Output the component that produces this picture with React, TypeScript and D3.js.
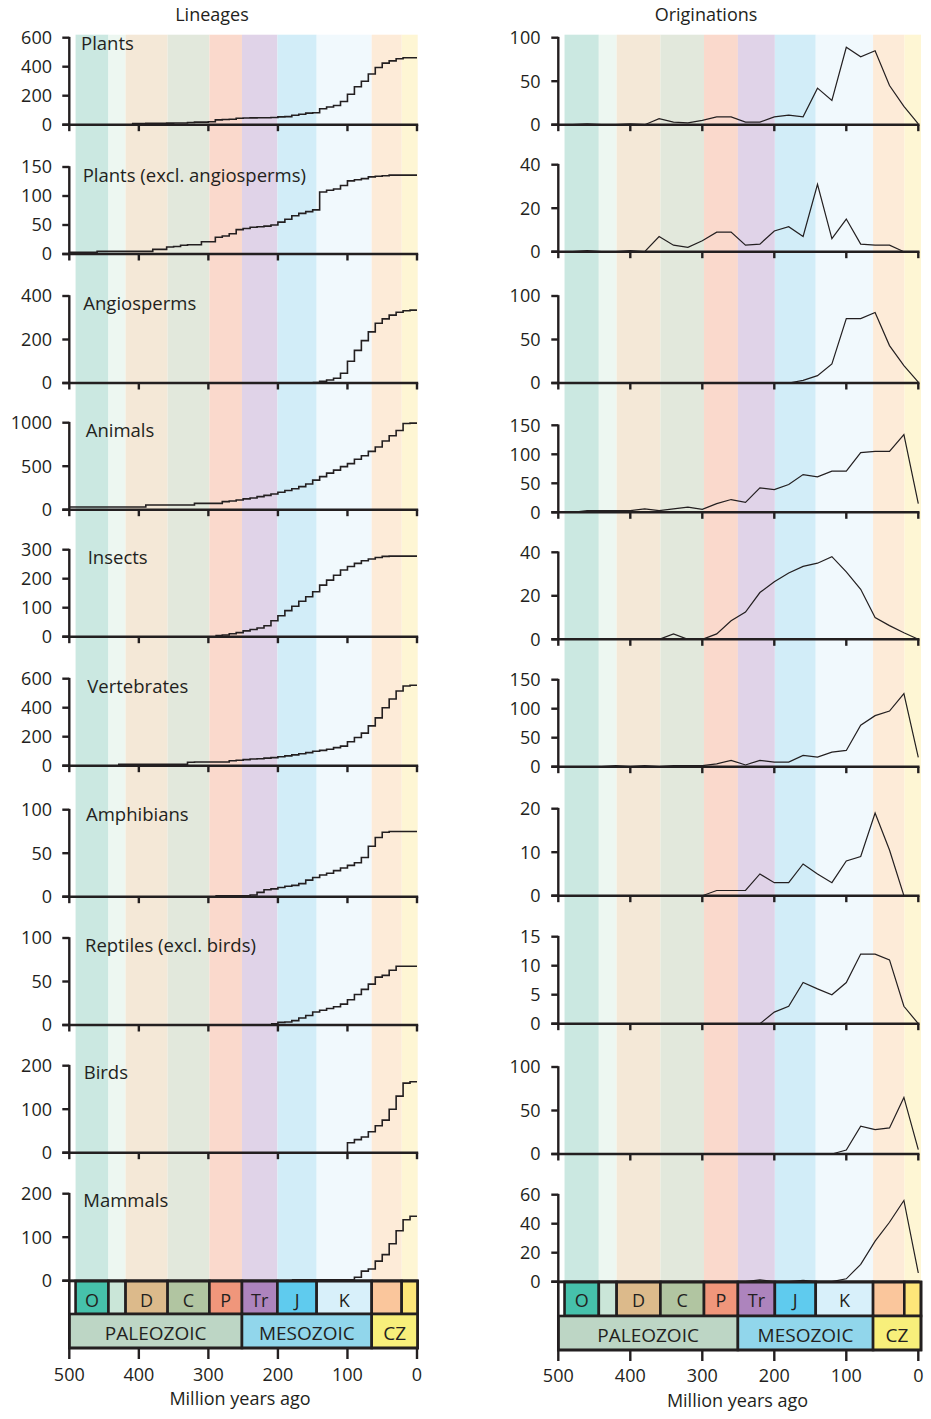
import React from 'react';
import * as d3 from 'd3';

// ---------------- Data ----------------
const lineageAges = [500, 490, 480, 470, 460, 450, 440, 430, 420, 410, 400, 390, 380, 370, 360, 350, 340, 330, 320, 310, 300, 290, 280, 270, 260, 250, 240, 230, 220, 210, 200, 190, 180, 170, 160, 150, 140, 130, 120, 110, 100, 90, 80, 70, 60, 50, 40, 30, 20, 10, 0];
const originationAges = [480, 460, 440, 420, 400, 380, 360, 340, 320, 300, 280, 260, 240, 220, 200, 180, 160, 140, 120, 100, 80, 60, 40, 20, 0];

const groupNames = ['Plants', 'Plants (excl. angiosperms)', 'Angiosperms', 'Animals', 'Insects', 'Vertebrates', 'Amphibians', 'Reptiles (excl. birds)', 'Birds', 'Mammals'];

const lineageTicks = [[0, 200, 400, 600], [0, 50, 100, 150], [0, 200, 400], [0, 500, 1000], [0, 100, 200, 300], [0, 200, 400, 600], [0, 50, 100], [0, 50, 100], [0, 100, 200], [0, 100, 200]];
const originationTicks = [[0, 50, 100], [0, 20, 40], [0, 50, 100], [0, 50, 100, 150], [0, 20, 40], [0, 50, 100, 150], [0, 10, 20], [0, 5, 10, 15], [0, 50, 100], [0, 20, 40, 60]];

const plantsLin = [null, null, null, null, null, null, null, null, null, 8, 8, 9, 10, 10, 11, 12, 12, 15, 18, 18, 20, 33, 36, 38, 44, 46, 47, 48, 48, 50, 54, 56, 65, 72, 80, 82, 110, 122, 132, 160, 210, 262, 300, 350, 395, 425, 440, 455, 462, 462, 462];
const plantsExclLin = [3, 3, 3, 3, 4.5, 4.5, 4.5, 4.5, 4.5, 4.5, 4.5, 4.5, 8, 8, 12, 13, 15, 16, 16, 21, 21, 29, 31, 35, 42, 44, 46, 47, 48, 50, 55, 60, 66, 70, 73, 76, 107, 110, 112, 118, 126, 128, 130, 133, 134, 135, 136, 136, 136, 136, 136];
const angioLin = [null, null, null, null, null, null, null, null, null, null, null, null, null, null, null, null, null, null, null, null, null, null, null, null, null, null, null, null, null, null, null, null, null, null, null, 2, 8, 14, 22, 45, 100, 150, 195, 235, 275, 295, 312, 325, 332, 335, 335];
const animalLin = [31, 31, 31, 31, 31, 31, 31, 31, 31, 31, 31, 54, 54, 54, 54, 54, 54, 54, 73, 73, 73, 73, 93, 100, 112, 125, 135, 150, 165, 180, 200, 220, 240, 265, 295, 340, 380, 420, 455, 495, 530, 580, 620, 670, 720, 790, 850, 910, 990, 995, 995];
const insectLin = [null, null, null, null, null, null, null, null, null, null, null, null, null, null, null, null, null, null, null, null, null, 4, 6, 10, 14, 20, 25, 30, 38, 55, 72, 90, 105, 122, 138, 155, 178, 195, 212, 230, 242, 253, 262, 268, 273, 277, 278, 278, 278, 278, 278];
const vertebrateLin = [null, null, null, null, null, null, null, 9, 9, 9, 9, 9, 9, 9, 9, 9, 9, 24, 26, 26, 26, 26, 26, 34, 38, 42, 46, 48, 52, 56, 62, 68, 75, 82, 90, 100, 106, 113, 125, 135, 165, 195, 225, 275, 330, 400, 460, 515, 550, 555, 555];
const amphibianLin = [null, null, null, null, null, null, null, null, null, null, null, null, null, null, null, null, null, null, null, null, null, 1, 1, 1, 1, 1, 2, 5, 8, 9, 10.5, 12, 13, 15, 19, 22, 25, 27, 30, 33, 36, 39, 45, 58, 68, 74, 75, 75, 75, 75, 75];
const reptileLin = [null, null, null, null, null, null, null, null, null, null, null, null, null, null, null, null, null, null, null, null, null, null, null, null, null, null, null, null, null, 1.5, 3, 3.5, 5, 8, 11, 15, 17, 19, 21, 24, 29, 35, 41, 47, 55, 57, 63, 67.5, 67.5, 67.5, 67.5];
const birdLin = [null, null, null, null, null, null, null, null, null, null, null, null, null, null, null, null, null, null, null, null, null, null, null, null, null, null, null, null, null, null, null, null, null, null, null, null, null, null, null, 0, 23, 30, 36, 48, 62, 75, 100, 130, 160, 163, 163];
const mammalLin = [null, null, null, null, null, null, null, null, null, null, null, null, null, null, null, null, null, null, null, null, null, null, null, null, null, null, null, null, null, null, null, null, 2, 2, 2, 2, 2, 2, 2, 2, 2, 8, 22, 27, 45, 60, 85, 115, 140, 148, 148];

const plantsOrig = [0, 1, 0, 0, 1, 0, 7, 3, 2, 5, 9, 9, 3, 3, 9, 11, 9, 42, 28, 89, 78, 85, 45, 21, 1];
const plantsExclOrig = [0, 0.5, 0, 0, 0.5, 0, 7, 3, 2, 5, 9, 9, 3, 3.5, 9.5, 11.5, 7, 31, 6, 15, 3.5, 3, 3, 0, 0];
const angioOrig = [0, 0, 0, 0, 0, 0, 0, 0, 0, 0, 0, 0, 0, 0, 0, 0, 3, 8.5, 22, 74, 74, 81, 43, 20, 1];
const animalOrig = [0, 3, 3, 3, 3, 6, 3, 6, 9, 5, 15, 22, 17, 42, 39, 48, 65, 61, 71, 71, 103, 105, 105, 134, 15];
const insectOrig = [0, 0, 0, 0, 0, 0, 0, 2.5, 0, 0, 2.5, 8.5, 12.5, 21.5, 26.5, 30.5, 33.5, 35, 38, 31, 23, 10, 6.3, 3, 0];
const vertebrateOrig = [0, 0, 0, 2, 0, 2, 0, 2, 2, 2, 5, 11, 3, 11, 8, 8, 19.5, 16.5, 25, 28, 71.5, 88, 96, 126, 16];
const amphibianOrig = [0, 0, 0, 0, 0, 0, 0, 0, 0, 0, 1.2, 1.2, 1.2, 5, 3, 3, 7.3, 5, 3, 8, 9, 19, 10.5, 0, 0];
const reptileOrig = [0, 0, 0, 0, 0, 0, 0, 0, 0, 0, 0, 0, 0, 0, 2, 3, 7.1, 6, 5, 7.1, 12, 12, 11, 3, 0];
const birdOrig = [0, 0, 0, 0, 0, 0, 0, 0, 0, 0, 0, 0, 0, 0, 0, 0, 0, 0, 0, 4.5, 32, 28, 30, 65, 5];
const mammalOrig = [0, 0, 0, 0, 0, 0, 0, 0, 0, 0, 0, 0, 0, 1.2, 0, 0, 1, 0, 0, 2, 12, 28, 41, 56, 6];

const lineageSeries = [plantsLin, plantsExclLin, angioLin, animalLin, insectLin, vertebrateLin, amphibianLin, reptileLin, birdLin, mammalLin];
const originationSeries = [plantsOrig, plantsExclOrig, angioOrig, animalOrig, insectOrig, vertebrateOrig, amphibianOrig, reptileOrig, birdOrig, mammalOrig];

const periodLabels = ['O', '', 'D', 'C', 'P', 'Tr', 'J', 'K', '', ''];
const periodStarts = [491, 443.8, 419.2, 358.9, 298.9, 252.2, 201.3, 145, 66, 23];
const periodEnds = [443.8, 419.2, 358.9, 298.9, 252.2, 201.3, 145, 66, 23, 0];
const bandColors = ['#cbe8e1', '#edf7f1', '#f4e8d7', '#e2e8dc', '#fad9cc', '#e0d3e8', '#d2edf8', '#f1f9fd', '#fdebd8', '#fef6d4'];
const boxColors = ['#46c1ab', '#cae6d8', '#dcba8b', '#b1c5a1', '#f0967b', '#ad84bd', '#5fcbee', '#d8f0fa', '#fac69c', '#fee679'];
const eraLabels = ['PALEOZOIC', 'MESOZOIC', 'CZ'];
const eraStarts = [500, 252.2, 66];
const eraEnds = [252.2, 66, 0];
const eraColors = ['#bdd6c5', '#91d6eb', '#f8ef7b'];
const xTicks = [500, 400, 300, 200, 100, 0];

// ---------------- Layout ----------------
const INK = '#231f20';
const FONT = '"Open Sans", "Noto Sans", sans-serif';
const PANEL_H = 87;
const leftZeros = [124.7, 254, 383, 509.7, 636.7, 765.7, 896.7, 1025, 1152.7, 1280.7];
const rightZeros = [124.7, 251.7, 383, 512.3, 639.3, 766.7, 895.7, 1023.7, 1154, 1281.7];
const labelX = [81, 82.7, 83.3, 85.7, 87.7, 87.3, 86, 85, 83.7, 83.3];
const labelY = [50, 181.7, 310, 436.7, 564, 692.7, 820.7, 951.7, 1079.3, 1207.3];

const xL = d3.scaleLinear().domain([500, 0]).range([69.3, 417]);
const xR = d3.scaleLinear().domain([500, 0]).range([558.3, 918.3]);
const bandL = d3.scaleLinear().domain([500, 0]).range([69.3, 417.7]);
const bandR = d3.scaleLinear().domain([500, 0]).range([558, 921]);

type Side = {
  x: d3.ScaleLinear<number, number>;
  band: d3.ScaleLinear<number, number>;
  zeros: number[];
  ticks: number[][];
  series: (number | null)[][];
  ages: number[];
  step: boolean;
  lineW: number;
  labX: number;
  title: string;
  titleX: number;
  rows: number[];
  bottomLabelY: number;
  axisTitleX: number;
  axisTitleY: number;
  periodTextY: number;
  eraTextY: number;
};

function SidePlot({ s }: { s: Side }) {
  const x0 = s.x(500);
  const xEnd = s.x(0);
  const bandTop = 34.7;
  return (
    <g>
      {periodStarts.map((st, i) => (
        <rect key={'b' + i} x={s.band(st)} y={bandTop} width={s.band(periodEnds[i]) - s.band(st)} height={s.rows[0] - bandTop} fill={bandColors[i]} />
      ))}
      <text x={s.titleX} y={21} textAnchor="middle" fontSize={18} fill={INK}>{s.title}</text>
      {s.series.map((vals, i) => {
        const y0 = s.zeros[i];
        const ticks = s.ticks[i];
        const yMax = ticks[ticks.length - 1];
        const y = d3.scaleLinear().domain([0, yMax]).range([y0, y0 - PANEL_H]);
        const pts: [number, number | null][] = s.ages.map((a, j) => [a, vals[j]]);
        const line = d3.line<[number, number | null]>()
          .defined(d => d[1] !== null)
          .x(d => s.x(d[0]))
          .y(d => y(d[1] as number))
          .curve(s.step ? d3.curveStepAfter : d3.curveLinear);
        return (
          <g key={'p' + i}>
            <path d={line(pts) || ''} fill="none" stroke={INK} strokeWidth={s.lineW} strokeLinejoin="miter" />
            <line x1={x0} x2={x0} y1={y(yMax) - 0.8} y2={y0} stroke={INK} strokeWidth={2.4} />
            {ticks.map(t => (
              <g key={'yt' + t}>
                <line x1={x0 - 7} x2={x0} y1={y(t)} y2={y(t)} stroke={INK} strokeWidth={2.4} />
                <text x={s.labX} y={y(t) + 6.3} textAnchor="end" fontSize={18} fill={INK}>{t}</text>
              </g>
            ))}
            <line x1={x0 - 7} x2={xEnd + 1.2} y1={y0} y2={y0} stroke={INK} strokeWidth={2.6} />
            {xTicks.map(t => (
              <line key={'xt' + t} x1={s.x(t)} x2={s.x(t)} y1={y0} y2={y0 + 6.5} stroke={INK} strokeWidth={2.4} />
            ))}
            {s.step && (
              <text x={labelX[i]} y={labelY[i]} fontSize={18.5} fill={INK}>{groupNames[i]}</text>
            )}
          </g>
        );
      })}
      <rect x={x0} y={s.rows[0]} width={s.band(0) - x0} height={s.rows[1] - s.rows[0]} fill="#ffffff" />
      {periodStarts.map((st, i) => (
        <g key={'pb' + i}>
          <rect x={s.band(st)} y={s.rows[0]} width={s.band(periodEnds[i]) - s.band(st)} height={s.rows[1] - s.rows[0]} fill={boxColors[i]} stroke={INK} strokeWidth={2.6} />
          {periodLabels[i] && (
            <text x={(s.band(st) + s.band(periodEnds[i])) / 2} y={s.periodTextY} textAnchor="middle" fontSize={18} fill={INK}>{periodLabels[i]}</text>
          )}
        </g>
      ))}
      {eraStarts.map((st, i) => {
        const a = i === 0 ? x0 : s.band(st);
        const b = s.band(eraEnds[i]);
        return (
          <g key={'e' + i}>
            <rect x={a} y={s.rows[1]} width={b - a} height={s.rows[2] - s.rows[1]} fill={eraColors[i]} stroke={INK} strokeWidth={2.6} />
            <text x={(a + b) / 2} y={s.eraTextY} textAnchor="middle" fontSize={19} fill={INK}>{eraLabels[i]}</text>
          </g>
        );
      })}
      <rect x={x0} y={s.rows[0]} width={s.band(0) - x0} height={s.rows[2] - s.rows[0]} fill="none" stroke={INK} strokeWidth={2.6} />
      {xTicks.map(t => (
        <g key={'bt' + t}>
          <line x1={s.x(t)} x2={s.x(t)} y1={s.rows[2]} y2={s.rows[2] + 11} stroke={INK} strokeWidth={2.4} />
          <text x={s.x(t)} y={s.bottomLabelY} textAnchor="middle" fontSize={18} fill={INK}>{t}</text>
        </g>
      ))}
      <text x={s.axisTitleX} y={s.axisTitleY} textAnchor="middle" fontSize={18} fill={INK}>Million years ago</text>
    </g>
  );
}

export default function App() {
  const left: Side = {
    x: xL, band: bandL, zeros: leftZeros, ticks: lineageTicks, series: lineageSeries, ages: lineageAges,
    step: true, lineW: 1.6, labX: 52, title: 'Lineages', titleX: 212, rows: [1281, 1314, 1348],
    bottomLabelY: 1381, axisTitleX: 240, axisTitleY: 1405, periodTextY: 1306.7, eraTextY: 1340,
  };
  const right: Side = {
    x: xR, band: bandR, zeros: rightZeros, ticks: originationTicks, series: originationSeries, ages: originationAges,
    step: false, lineW: 1.2, labX: 540.5, title: 'Originations', titleX: 706, rows: [1282, 1316, 1350],
    bottomLabelY: 1382.3, axisTitleX: 737.5, axisTitleY: 1406.7, periodTextY: 1307.3, eraTextY: 1341.7,
  };
  return (
    <svg width={931} height={1419} viewBox="0 0 931 1419" style={{ position: 'absolute', left: 0, top: 0, display: 'block', background: '#ffffff' }} fontFamily={FONT}>
      <rect x={0} y={0} width={931} height={1419} fill="#ffffff" />
      <SidePlot s={left} />
      <SidePlot s={right} />
    </svg>
  );
}
